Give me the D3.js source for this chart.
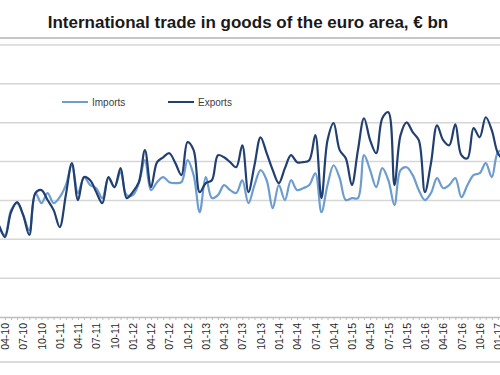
<!DOCTYPE html>
<html>
<head>
<meta charset="utf-8">
<script src="https://cdn.jsdelivr.net/npm/d3@7"></script>
<style>
  body { margin: 0; background: #fff; }
  svg { display: block; font-family: "Liberation Sans", Arial, sans-serif; }
</style>
</head>
<body>
<div id="chart"></div>
<script>
// monthly values, Jan 2010 .. Feb 2017 (€ bn)
const exportsBn = [
  129.9, 132.4, 127.3, 121.1, 134.0, 139.1, 132.4, 122.2, 143.8, 145.3, 140.2, 135.0,
  126.3, 142.7, 159.2, 140.2, 152.0, 150.4, 144.3, 138.6, 152.0, 146.8, 156.6, 141.2,
  144.3, 149.4, 165.9, 146.8, 159.7, 162.2, 164.3, 159.2, 153.0, 170.0, 165.9, 144.3,
  148.9, 150.4, 163.3, 162.2, 159.7, 157.1, 168.4, 144.3, 158.1, 172.5, 164.3, 155.6,
  148.9, 156.6, 163.3, 159.7, 159.7, 160.7, 173.6, 141.2, 171.0, 179.8, 165.9, 161.7,
  147.9, 165.9, 182.3, 171.0, 164.3, 182.3, 185.4, 147.9, 173.6, 180.2, 175.1, 171.0,
  144.3, 159.2, 178.7, 171.0, 168.4, 179.2, 163.3, 161.7, 177.2, 172.5, 182.8, 176.1,
  164.3, 160.7
];
const importsBn = [
  128.8, 131.0, 125.8, 122.2, 135.0, 138.6, 132.4, 124.7, 143.8, 138.6, 143.8, 138.6,
  141.7, 147.9, 158.1, 143.8, 152.0, 147.9, 146.3, 141.2, 151.5, 146.8, 154.6, 142.7,
  142.7, 148.9, 160.7, 145.3, 149.4, 152.0, 149.4, 148.9, 149.4, 160.7, 153.0, 134.0,
  152.0, 141.2, 142.7, 147.9, 145.3, 143.8, 150.4, 138.6, 147.9, 155.6, 150.4, 136.0,
  147.9, 140.2, 150.4, 145.3, 146.3, 147.9, 154.0, 134.0, 147.9, 158.1, 151.5, 140.2,
  141.2, 141.2, 163.3, 155.6, 146.8, 156.6, 150.4, 137.6, 155.6, 157.1, 153.0, 145.3,
  140.2, 143.8, 151.5, 146.3, 147.9, 151.5, 141.7, 147.9, 153.0, 154.0, 159.2, 152.0,
  164.8, 165.9
];
const yTicks = [80, 100, 120, 140, 160, 180, 200, 220];
const seriesNames = ["Imports", "Exports"];

const months = d3.timeMonth.range(new Date(2010, 0, 1), new Date(2010, 0 + exportsBn.length, 1));
const fmt = d3.timeFormat("%m-%y");
const labels = months.map(fmt);

const W = 500, H = 375;
const svg = d3.select('#chart')
  .append('svg')
  .attr('width', W)
  .attr('height', H);

// scales (the picture is a crop of a wider chart, so the plot runs past the edges)
const x = d3.scalePoint()
  .domain(labels)
  .range([-13.3, -13.3 + 6.086 * (labels.length - 1)]);

const y = d3.scaleLinear()
  .domain([80, 220])
  .range([317, 45]);

const colors = { Imports: "#6d9ccf", Exports: "#213f70" };

// title
svg.append("text")
  .attr("x", 248)
  .attr("y", 28)
  .attr("text-anchor", "middle")
  .style("font-size", "17px")
  .style("font-weight", "bold")
  .style("fill", "#1a1a1a")
  .text("International trade in goods of the euro area, € bn");

svg.append("line")
  .attr("x1", 0).attr("x2", W)
  .attr("y1", 38).attr("y2", 38)
  .attr("stroke", "#b5b5b5")
  .attr("stroke-width", 1.5);

// gridlines
svg.append("g")
  .selectAll("line")
  .data(yTicks.slice(1))
  .join("line")
  .attr("x1", 0).attr("x2", W)
  .attr("y1", d => y(d)).attr("y2", d => y(d))
  .attr("stroke", "#d6d6d6")
  .attr("stroke-width", 1.5);

// x axis
const xAxis = d3.axisBottom(x)
  .tickSize(3)
  .tickSizeOuter(0)
  .tickFormat((d, i) => i % 3 === 0 ? d : "");

const gx = svg.append("g")
  .attr("transform", `translate(0,${y(80)})`)
  .call(xAxis);
gx.select(".domain").attr("stroke", "#bdbdbd").attr("stroke-width", 1.5);
gx.selectAll(".tick line").attr("stroke", "#bdbdbd");
gx.selectAll(".tick text")
  .attr("transform", "rotate(-90)")
  .attr("x", -6)
  .attr("y", 0)
  .attr("dy", "0.35em")
  .style("text-anchor", "end")
  .style("font-size", "10.5px")
  .style("font-family", "'Liberation Sans', Arial, sans-serif")
  .style("fill", "#1f1f1f");

// bottom border of chart area
svg.append("line")
  .attr("x1", 0).attr("x2", W)
  .attr("y1", 362).attr("y2", 362)
  .attr("stroke", "#d0d0d0")
  .attr("stroke-width", 1.5);

// lines
const line = d3.line()
  .x((d, i) => x(labels[i]))
  .y(d => y(d))
  .curve(d3.curveCatmullRom.alpha(0.5));

const seriesData = { Imports: importsBn, Exports: exportsBn };

seriesNames.forEach(name => {
  svg.append("path")
    .datum(seriesData[name])
    .attr("fill", "none")
    .attr("stroke", colors[name])
    .attr("stroke-width", 2.2)
    .attr("d", line);
});

// legend
const legendX = [62, 168];
seriesNames.forEach((name, i) => {
  svg.append("line")
    .attr("x1", legendX[i]).attr("x2", legendX[i] + 26)
    .attr("y1", 102).attr("y2", 102)
    .attr("stroke", colors[name])
    .attr("stroke-width", 2);
  svg.append("text")
    .attr("x", legendX[i] + 30)
    .attr("y", 102)
    .attr("dy", "0.35em")
    .style("font-size", "10px")
    .style("fill", "#404040")
    .text(name);
});
</script>
</body>
</html>
